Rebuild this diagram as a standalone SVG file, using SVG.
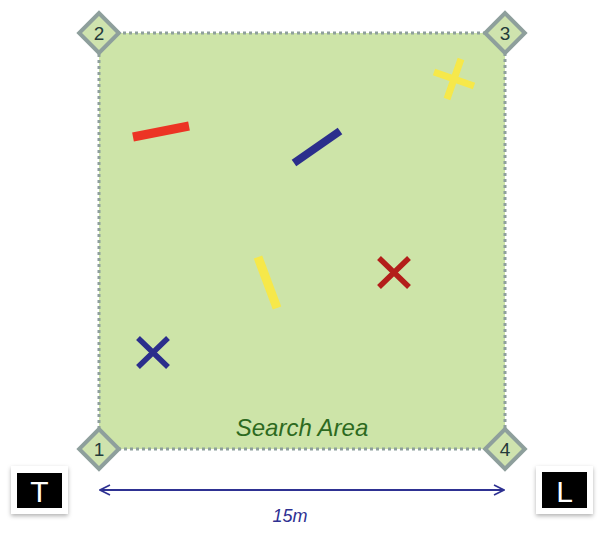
<svg xmlns="http://www.w3.org/2000/svg" width="610" height="534" viewBox="0 0 610 534">
<defs>
<style>
.corner{fill:#cfe3ae;stroke:#8e9f9c;stroke-width:4}
.cnum{font-family:"Liberation Sans",Arial,sans-serif;font-size:19px;fill:#243a3a;text-anchor:middle}
.key{font-family:"Liberation Sans",Arial,sans-serif;font-size:30px;fill:#ffffff;text-anchor:middle}
</style>
<filter id="sh" x="-30%" y="-30%" width="160%" height="170%">
<feDropShadow dx="0" dy="2" stdDeviation="2" flood-color="#000" flood-opacity="0.3"/>
</filter>
<marker id="ah" viewBox="0 0 12 12" refX="11" refY="6" markerWidth="12" markerHeight="12" markerUnits="userSpaceOnUse" orient="auto-start-reverse">
<path d="M1,1 L11,6 L1,11" fill="none" stroke="#2e3192" stroke-width="1.6"/>
</marker>
</defs>
<rect width="610" height="534" fill="#ffffff"/>
<g id="area">
<rect x="99" y="33" width="406" height="416" fill="#cde4a8" stroke="#8e9f9c" stroke-width="3" stroke-dasharray="3 3"/>
<text x="302" y="436" font-family="Liberation Sans,Arial,sans-serif" font-size="24" font-style="italic" fill="#2d6a1f" text-anchor="middle">Search Area</text>
</g>
<g id="items">
<line x1="133" y1="137" x2="189" y2="126" stroke="#ec3424" stroke-width="9"/>
<line x1="294" y1="163" x2="340" y2="131" stroke="#2b2e8c" stroke-width="8"/>
<line x1="258" y1="257" x2="277" y2="308" stroke="#f6e84a" stroke-width="9"/>
<path d="M379,258 L409,287 M409,258 L379,287" stroke="#b31e1a" stroke-width="5.5"/>
<path d="M138,338 L168,367 M168,338 L138,367" stroke="#2b2e8c" stroke-width="5.5"/>
<path d="M434,72 L474,86 M461,59 L447,99" stroke="#f6e84a" stroke-width="7"/>
</g>
<g id="c2"><rect x="85" y="19" width="28" height="28" transform="rotate(45 99 33)" class="corner"/><text x="99" y="40" class="cnum">2</text></g>
<g id="c3"><rect x="491" y="19" width="28" height="28" transform="rotate(45 505 33)" class="corner"/><text x="505" y="40" class="cnum">3</text></g>
<g id="c1"><rect x="85" y="435" width="28" height="28" transform="rotate(45 99 449)" class="corner"/><text x="99" y="456" class="cnum">1</text></g>
<g id="c4"><rect x="491" y="435" width="28" height="28" transform="rotate(45 505 449)" class="corner"/><text x="505" y="456" class="cnum">4</text></g>
<g id="connectors">
<line x1="100" y1="490" x2="504" y2="490" stroke="#2e3192" stroke-width="1.8" marker-start="url(#ah)" marker-end="url(#ah)"/>
<text x="290" y="522" font-family="Liberation Sans,Arial,sans-serif" font-size="18" font-style="italic" fill="#2e3192" text-anchor="middle">15m</text>
</g>
<g id="T">
<rect x="11" y="466" width="57" height="48" fill="#ffffff" filter="url(#sh)"/>
<rect x="17" y="473" width="45" height="35" fill="#000000"/>
<text x="39.500" y="502" class="key">T</text>
</g>
<g id="L">
<rect x="536" y="466" width="57" height="48" fill="#ffffff" filter="url(#sh)"/>
<rect x="542" y="472" width="45" height="36" fill="#000000"/>
<text x="564.500" y="502" class="key">L</text>
</g>
</svg>
